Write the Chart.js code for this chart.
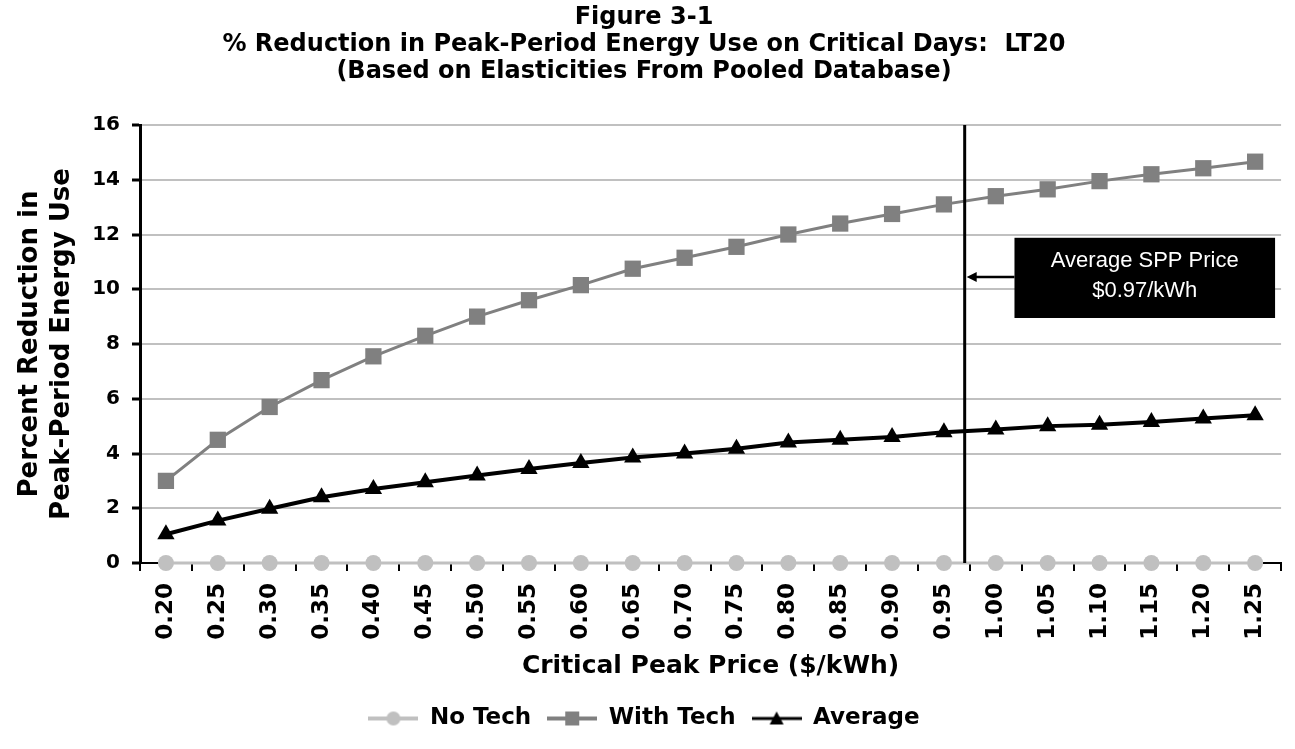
<!DOCTYPE html>
<html lang="en">
 <head>
  <meta charset="UTF-8" />
  <title>Figure 3-1</title>
  <style>
   * {
    padding: 0;
    margin: 0;
    box-sizing: border-box;
   }
   body {
    background: #ffffff;
   }
   .wrapper {
    width: 1295px;
    height: 749px;
    position: relative;
   }
  </style>
 </head>
 <body>
  <div class="wrapper">
   <canvas id="chart"></canvas>
  </div>

  <script src="https://cdn.jsdelivr.net/npm/chart.js@4.4.1/dist/chart.umd.min.js"></script>
  <script>
   // Critical peak prices ($/kWh) along the x axis
   const prices = ['0.20', '0.25', '0.30', '0.35', '0.40', '0.45', '0.50', '0.55', '0.60', '0.65', '0.70',
    '0.75', '0.80', '0.85', '0.90', '0.95', '1.00', '1.05', '1.10', '1.15', '1.20', '1.25']

   // % reduction in peak-period energy use
   const noTech = [0, 0, 0, 0, 0, 0, 0, 0, 0, 0, 0, 0, 0, 0, 0, 0, 0, 0, 0, 0, 0, 0]
   const withTech = [3.0, 4.5, 5.7, 6.68, 7.55, 8.3, 9.0, 9.6, 10.15, 10.75, 11.15,
    11.55, 12.0, 12.4, 12.75, 13.1, 13.4, 13.65, 13.95, 14.2, 14.42, 14.66]
   const average = [1.05, 1.55, 1.98, 2.4, 2.7, 2.95, 3.2, 3.43, 3.65, 3.85, 4.0,
    4.17, 4.4, 4.5, 4.6, 4.78, 4.88, 5.0, 5.05, 5.15, 5.28, 5.4]

   const sppPrice = 0.97
   const sppLabel = ['Average SPP Price', '$0.97/kWh']

   const heavy = 'DejaVu Sans'

   // small line+marker icon for the legend (Excel style)
   const legendIcon = (color, lineWidth, shape) => {
    const c = document.createElement('canvas')
    c.width = 50
    c.height = 22
    const ctx = c.getContext('2d')
    ctx.strokeStyle = color
    ctx.fillStyle = color
    ctx.lineWidth = lineWidth
    ctx.beginPath()
    ctx.moveTo(0, 11)
    ctx.lineTo(50, 11)
    ctx.stroke()
    ctx.beginPath()
    if (shape === 'circle') {
     ctx.arc(25, 11, 7, 0, Math.PI * 2)
    } else if (shape === 'rect') {
     ctx.rect(18, 4, 14, 14)
    } else {
     ctx.moveTo(25, 4)
     ctx.lineTo(32, 17)
     ctx.lineTo(18, 17)
     ctx.closePath()
    }
    ctx.fill()
    return c
   }

   const icons = [
    legendIcon('#c0c0c0', 4, 'circle'),
    legendIcon('#808080', 4, 'rect'),
    legendIcon('#000000', 3, 'triangle')
   ]

   // vertical line at the SPP price plus the black callout box
   const sppMarker = {
    id: 'sppMarker',
    afterDatasetsDraw(chart) {
     const { ctx, chartArea, scales } = chart
     const idx = (sppPrice - parseFloat(prices[0])) / 0.05
     const x = scales.x.getPixelForValue(idx)
     ctx.save()
     ctx.strokeStyle = '#000000'
     ctx.lineWidth = 3
     ctx.beginPath()
     ctx.moveTo(x, chartArea.top)
     ctx.lineTo(x, chartArea.bottom)
     ctx.stroke()

     const boxLeft = scales.x.getPixelForValue(idx + 0.96)
     const boxRight = chartArea.right - 6
     const boxTop = scales.y.getPixelForValue(11.88)
     const boxBottom = scales.y.getPixelForValue(8.95)
     ctx.fillStyle = '#000000'
     ctx.fillRect(boxLeft, boxTop, boxRight - boxLeft, boxBottom - boxTop)

     // arrow from the box to the line
     const ay = scales.y.getPixelForValue(10.45)
     ctx.lineWidth = 2.5
     ctx.beginPath()
     ctx.moveTo(boxLeft, ay)
     ctx.lineTo(x + 6, ay)
     ctx.stroke()
     ctx.beginPath()
     ctx.moveTo(x + 2, ay)
     ctx.lineTo(x + 12, ay - 5)
     ctx.lineTo(x + 12, ay + 5)
     ctx.closePath()
     ctx.fill()

     ctx.fillStyle = '#ffffff'
     ctx.font = '22px "Liberation Sans", Arial, sans-serif'
     ctx.textAlign = 'center'
     ctx.textBaseline = 'middle'
     const cx = (boxLeft + boxRight) / 2
     const cy = (boxTop + boxBottom) / 2
     ctx.fillText(sppLabel[0], cx, cy - 17)
     ctx.fillText(sppLabel[1], cx, cy + 13)
     ctx.restore()
    }
   }

   const chart = new Chart(document.getElementById('chart'), {
    type: 'line',
    plugins: [sppMarker],
    data: {
     labels: prices,
     datasets: [
      {
       label: 'No Tech',
       data: noTech,
       borderColor: '#c0c0c0',
       backgroundColor: '#c0c0c0',
       borderWidth: 3,
       pointStyle: 'circle',
       pointRadius: 8,
       pointBorderWidth: 0,
       clip: false
      },
      {
       label: 'With Tech',
       data: withTech,
       borderColor: '#808080',
       backgroundColor: '#808080',
       borderWidth: 3,
       pointStyle: 'rect',
       pointRadius: 11.5,
       pointBorderWidth: 0,
       clip: false
      },
      {
       label: 'Average',
       data: average,
       borderColor: '#000000',
       backgroundColor: '#000000',
       borderWidth: 4,
       pointStyle: 'triangle',
       pointRadius: 10,
       pointBorderWidth: 0,
       clip: false
      }
     ]
    },
    options: {
     responsive: true,
     maintainAspectRatio: false,
     animation: false,
     layout: { padding: { left: 0, right: 7, top: 0, bottom: 9 } },
     plugins: {
      tooltip: { enabled: false },
      title: {
       display: true,
       text: [
        'Figure 3-1',
        '% Reduction in Peak-Period Energy Use on Critical Days:  LT20',
        '(Based on Elasticities From Pooled Database)'
       ],
       color: '#000000',
       font: { family: heavy, size: 24, weight: 'bold', lineHeight: 1.125 },
       padding: { top: 4, bottom: 40 }
      },
      legend: {
       position: 'bottom',
       labels: {
        color: '#000000',
        font: { family: heavy, size: 23, weight: 'bold' },
        usePointStyle: true,
        pointStyleWidth: 50,
        padding: 16,
        generateLabels: c => {
         const items = Chart.defaults.plugins.legend.labels.generateLabels(c)
         items.forEach(item => {
          item.pointStyle = icons[item.datasetIndex]
         })
         return items
        }
       }
      }
     },
     scales: {
      x: {
       offset: true,
       afterFit: scale => {
        scale.height = 128
       },
       border: { display: true, color: '#000000', width: 2 },
       grid: {
        offset: true,
        drawOnChartArea: false,
        drawTicks: true,
        tickLength: 8,
        color: '#000000',
        lineWidth: 2
       },
       ticks: {
        color: '#000000',
        minRotation: 90,
        maxRotation: 90,
        padding: 12,
        autoSkip: false,
        font: { family: heavy, size: 23, weight: 'bold' }
       },
       title: {
        display: true,
        text: 'Critical Peak Price ($/kWh)',
        color: '#000000',
        font: { family: heavy, size: 25, weight: 'bold', lineHeight: 1.2 },
        padding: { top: 4, bottom: 10 }
       }
      },
      y: {
       min: 0,
       max: 16,
       afterFit: scale => {
        scale.width = 140
       },
       border: { display: true, color: '#000000', width: 3 },
       grid: {
        color: '#c0c0c0',
        lineWidth: 2,
        tickColor: '#000000',
        tickLength: 8,
        tickWidth: 3
       },
       ticks: {
        stepSize: 2,
        color: '#000000',
        padding: 12,
        font: { family: heavy, size: 20, weight: 'bold' }
       },
       title: {
        display: true,
        text: ['Percent Reduction in', 'Peak-Period Energy Use'],
        color: '#000000',
        font: { family: heavy, size: 26, weight: 'bold', lineHeight: 1.23 },
        padding: { top: 14, bottom: 0 }
       }
      }
     }
    }
   })
  </script>
 </body>
</html>
